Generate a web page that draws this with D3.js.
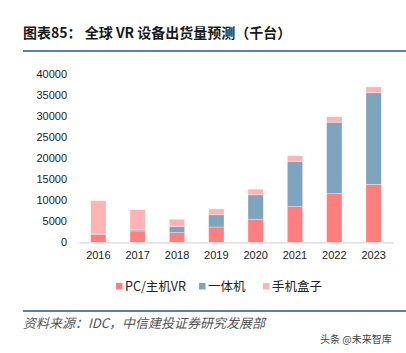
<!DOCTYPE html>
<html>
<head>
<meta charset="utf-8">
<script src="https://cdn.jsdelivr.net/npm/d3@7"></script>
<style>
  body { margin: 0; background: #fff; }
  svg { display: block; }
</style>
</head>
<body>
<svg></svg>
<script>
// chart data (thousand units)
let years = ['2016', '2017', '2018', '2019', '2020', '2021', '2022', '2023']
let pcVR = [1900, 2700, 2300, 3650, 5500, 8500, 11600, 13800]
let standalone = [100, 250, 1500, 2900, 5800, 10800, 17000, 21800]
let mobileBox = [7900, 4800, 1700, 1400, 1350, 1300, 1300, 1400]
let seriesNames = ['PC/主机VR', '一体机', '手机盒子']
let yTicks = [0, 5000, 10000, 15000, 20000, 25000, 30000, 35000, 40000]

let colors = ['#ff7f7f', '#7fa5be', '#ffb3b3']

let width = 406
let height = 353

let svg = d3.select('svg')
    .attr('width', width)
    .attr('height', height)

// title and rules
svg.append('text')
    .attr('x', 23)
    .attr('y', 38)
    .attr('font-family', 'Noto Sans CJK SC')
    .attr('font-weight', 'bold')
    .attr('font-size', 14)
    .attr('fill', '#1a1a1a')
    .text('图表85：  全球 VR 设备出货量预测（千台）')

svg.append('line')
    .attr('x1', 23).attr('x2', 406)
    .attr('y1', 51).attr('y2', 51)
    .attr('stroke', '#1f5a8a').attr('stroke-width', 1.5)

svg.append('line')
    .attr('x1', 23).attr('x2', 406)
    .attr('y1', 311).attr('y2', 311)
    .attr('stroke', '#1f5a8a').attr('stroke-width', 1.5)

// scales
let xScale = d3.scaleBand()
    .domain(years)
    .range([78.7, 393.3])
    .paddingInner(0.61)
    .paddingOuter(0.305)

let yScale = d3.scaleLinear()
    .domain([0, 40000])
    .range([242.3, 74.3])

// stack the series
let table = years.map((y, i) => ({ year: y, pc: pcVR[i], aio: standalone[i], box: mobileBox[i] }))
let stacked = d3.stack().keys(['pc', 'aio', 'box'])(table)

// axes
let yAxis = d3.axisLeft(yScale).tickValues(yTicks).tickSize(0).tickPadding(0).tickFormat(d3.format('d'))
svg.append('g')
    .attr('transform', 'translate(67, 0)')
    .call(yAxis)
    .call(g => g.select('.domain').remove())
    .selectAll('text')
    .attr('font-family', 'Liberation Sans')
    .attr('font-size', 11)
    .attr('fill', '#222')

let xAxis = d3.axisBottom(xScale).tickSize(0).tickPadding(9)
svg.append('g')
    .attr('transform', 'translate(0, 242.3)')
    .call(xAxis)
    .call(g => g.select('.domain').attr('stroke', '#d9d9d9').attr('stroke-width', 1.2))
    .selectAll('text')
    .attr('font-family', 'Liberation Sans')
    .attr('font-size', 11)
    .attr('fill', '#222')

// bars
svg.append('g')
    .selectAll('g')
    .data(stacked)
    .enter()
    .append('g')
    .attr('fill', (d, i) => colors[i])
    .selectAll('rect')
    .data(d => d)
    .enter()
    .append('rect')
    .attr('x', d => xScale(d.data.year))
    .attr('width', xScale.bandwidth())
    .attr('y', d => yScale(d[1]))
    .attr('height', d => yScale(d[0]) - yScale(d[1]))
    .attr('stroke', '#fff')
    .attr('stroke-opacity', 0.5)
    .attr('stroke-width', 0.6)

// legend
let legendX = [116, 199, 263]
let legend = svg.append('g')
    .selectAll('g')
    .data(seriesNames)
    .enter()
    .append('g')
    .attr('transform', (d, i) => 'translate(' + legendX[i] + ', 286)')

legend.append('rect')
    .attr('x', 0).attr('y', -3)
    .attr('width', 6.5).attr('height', 6.5)
    .attr('fill', (d, i) => colors[i])

legend.append('text')
    .attr('x', 9)
    .attr('y', 5)
    .attr('font-family', 'Noto Sans CJK SC')
    .attr('font-size', 12.5)
    .attr('fill', '#222')
    .text(d => d)

// source and watermark
svg.append('text')
    .attr('x', 23)
    .attr('y', 328)
    .attr('font-family', 'Noto Sans CJK SC')
    .attr('font-style', 'italic')
    .attr('font-size', 13)
    .attr('fill', '#555')
    .text('资料来源：IDC，中信建投证券研究发展部')

svg.append('text')
    .attr('x', 320)
    .attr('y', 343)
    .attr('font-family', 'Noto Sans CJK SC')
    .attr('font-size', 10)
    .attr('fill', '#444')
    .text('头条 @未来智库')
</script>
</body>
</html>
